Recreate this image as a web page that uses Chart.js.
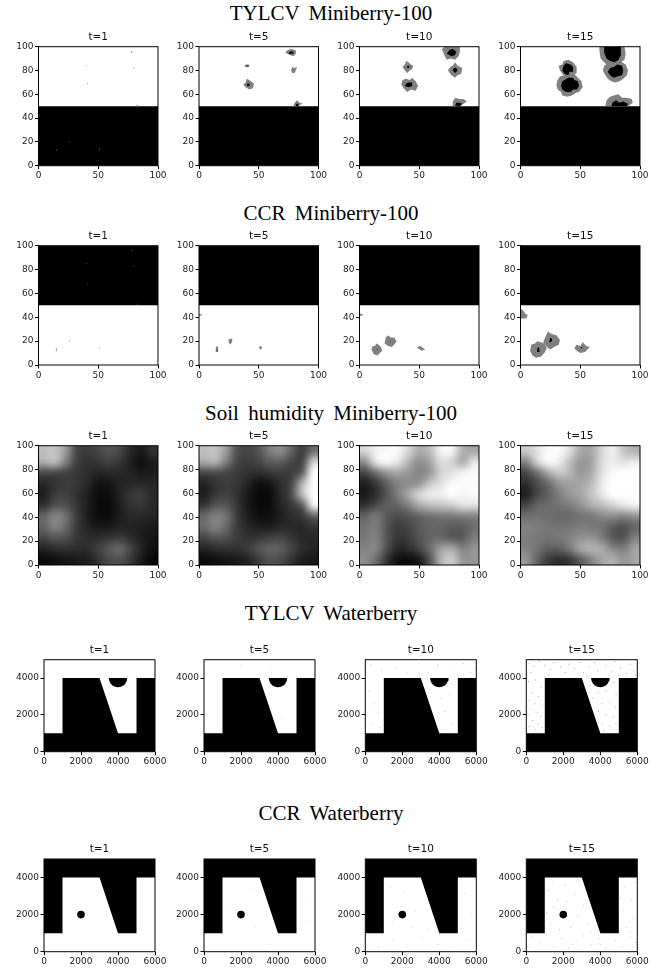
<!DOCTYPE html>
<html>
<head>
<meta charset="utf-8">
<title>Disease maps</title>
<script src="https://cdn.jsdelivr.net/npm/chart.js@4"></script>
<style>
    body { margin: 0; background: #fff; }
    #page { position: relative; width: 665px; height: 971px; overflow: hidden; }
    canvas { position: absolute; filter: blur(0.45px); }
    .head { position: absolute; left: 331px; transform: translateX(-50%); white-space: nowrap;
            font-family: "Liberation Serif", serif; font-size: 21px; word-spacing: 4px; line-height: 20px; color: #000; }
</style>
</head>
<body>
<div id="page"></div>
<script>
// Titles and tick labels
const rowTitles = ['TYLCV Miniberry-100', 'CCR Miniberry-100', 'Soil humidity Miniberry-100', 'TYLCV Waterberry', 'CCR Waterberry'];
const panelTitles = ['t=1', 't=5', 't=10', 't=15'];
const miniTicksX = [0, 50, 100];
const miniTicksY = [0, 20, 40, 60, 80, 100];
const waterTicksX = [0, 2000, 4000, 6000];
const waterTicksY = [0, 2000, 4000];

// Field masks, x,y pairs in data units
const miniLowerHalf = [0, 0, 100, 0, 100, 50, 0, 50];
const miniUpperHalf = [0, 50, 100, 50, 100, 100, 0, 100];
const waterTylcvMask = [0, 0, 6000, 0, 6000, 4000, 5000, 4000, 5000, 1000, 4000, 1000, 3000, 4000, 1000, 4000, 1000, 1000, 0, 1000];
const waterCcrMask = [0, 1000, 1000, 1000, 1000, 4000, 3000, 4000, 4000, 1000, 5000, 1000, 5000, 4000, 6000, 4000, 6000, 5000, 0, 5000];
const waterHalfDisc = [3500, 4000, 3525, 3850, 3600, 3700, 3700, 3600, 3850, 3525, 4000, 3500, 4150, 3525, 4300, 3600, 4400, 3700, 4475, 3850, 4500, 4000];
const waterTree = [2000, 2000];

// TYLCV Miniberry-100 spots
const tylcvT1Dots = [78, 95, 78, 96, 80, 82, 41, 69, 40, 84, 83, 51, 82, 50.5];
const tylcvT1DarkDots = [15, 13, 26, 20, 51, 14, 0.5, 42];
const tylcvT5Gray = [
    [38, 83, 39, 85, 42, 85, 42, 83],
    [37, 68, 39, 70, 40, 73, 42, 72, 46, 69, 45, 65, 42, 64, 39, 66],
    [72, 95, 74, 97, 77, 98, 81, 97, 81, 94, 79, 92, 76, 93, 74, 94],
    [77, 80, 78, 83, 80, 82, 82, 83, 81, 80, 80, 78, 78, 78],
    [79, 50, 80, 53, 82, 55, 84, 53, 87, 52, 84, 51, 83, 50]
];
const tylcvT5Black = [
    [39, 83.5, 41, 84.5, 41.5, 83.5],
    [40, 67, 40.5, 69, 42, 69, 42.5, 67],
    [75, 94, 76, 96, 79, 96, 79, 94],
    [81, 50, 81.5, 52, 83, 52, 83.5, 50]
];
const tylcvT10Gray = [
    [36, 83, 38, 85, 39, 88, 41, 87, 43, 85, 45, 84, 44, 81, 42, 80, 40, 78, 38, 80],
    [35, 68, 36, 72, 39, 73, 42, 72, 44, 74, 47, 71, 49, 67, 47, 63, 43, 64, 40, 62, 37, 65],
    [69, 98, 71, 100, 84, 100, 84, 96, 83, 92, 80, 89, 76, 90, 73, 89, 71, 93],
    [74, 80, 76, 83, 78, 84, 80, 87, 82, 84, 86, 82, 85, 77, 82, 76, 80, 74, 77, 76],
    [78, 50, 78, 54, 80, 57, 84, 56, 87, 56, 90, 54, 87, 52, 84, 50]
];
const tylcvT10Black = [
    [39, 83, 41, 84, 42, 83, 41, 82],
    [38, 67, 39, 69, 41, 70, 44, 70, 44, 67, 41, 66],
    [73, 94, 75, 97, 78, 98, 81, 96, 80, 93, 77, 92],
    [78, 80, 79, 82, 81, 82, 82, 80, 80, 78],
    [80, 50, 81, 53, 84, 53, 86, 52, 84, 50]
];
const tylcvT15Gray = [
    [33, 80, 32, 84, 35, 85, 36, 88, 40, 89, 44, 87, 47, 83, 47, 78, 44, 76, 42, 73, 38, 74, 36, 76],
    [30, 68, 31, 64, 34, 62, 35, 59, 39, 58, 43, 59, 46, 61, 49, 62, 52, 66, 51, 71, 48, 74, 45, 77, 40, 78, 37, 76, 33, 75, 31, 72],
    [66, 97, 67, 90, 70, 87, 73, 84, 77, 85, 81, 84, 84, 87, 87, 89, 88, 94, 87, 100, 66, 100],
    [69, 80, 71, 76, 73, 73, 76, 71, 79, 70, 83, 71, 86, 73, 89, 76, 90, 80, 88, 85, 85, 87, 82, 89, 78, 88, 73, 86, 70, 84],
    [71, 50, 72, 55, 75, 58, 78, 59, 82, 60, 85, 57, 89, 57, 93, 56, 94, 53, 90, 50]
];
const tylcvT15Black = [
    [35, 80, 36, 84, 38, 86, 42, 85, 44, 83, 44, 79, 41, 79, 40, 76, 37, 77],
    [34, 67, 35, 64, 38, 62, 42, 62, 44, 64, 47, 64, 49, 67, 48, 71, 45, 72, 44, 74, 40, 74, 37, 72, 35, 71],
    [70, 95, 72, 90, 75, 88, 79, 87, 82, 89, 84, 93, 84, 100, 70, 100],
    [73, 79, 75, 76, 78, 74, 81, 75, 85, 76, 86, 80, 85, 84, 81, 85, 78, 83, 75, 82],
    [76, 50, 77, 53, 80, 55, 83, 53, 86, 54, 90, 52, 89, 50]
];

// CCR Miniberry-100 spots
const ccrT1Dots = [15, 13, 15, 12, 15, 14, 26, 20, 51, 14];
const ccrT1DarkDots = [78, 96, 80, 83, 41, 68, 40, 85, 83, 51];
const ccrT5Gray = [
    [0, 41.5, 0, 42.5, 2.5, 42.5, 2.5, 41.5],
    [13.5, 11, 14, 14, 15, 16, 16, 15, 16, 11],
    [24.5, 21, 26, 22, 28, 22, 27.5, 19, 26, 17, 25, 19],
    [50, 14, 51, 16, 53, 15, 52, 13]
];
const ccrT5Black = [[14.5, 11.5, 15, 14, 15.5, 12]];
const ccrT10Gray = [
    [0, 41, 0, 43, 2, 43, 3, 41.5],
    [10, 13, 11, 16, 13, 16, 14, 18, 16, 17, 18, 15, 19, 12, 17, 10, 15, 8, 12, 9],
    [21, 18, 22, 23, 24, 25, 26, 23, 29, 23, 31, 20, 29, 17, 27, 15, 24, 16],
    [48, 15, 51, 16, 55, 13, 52, 12, 49, 14]
];
const ccrT10Black = [[14, 12.5, 14.5, 14, 15, 12.5], [25, 19.5, 25.5, 21, 26, 19.5]];
const ccrT15Gray = [
    [0, 39, 0, 47, 2, 46, 4, 43, 6, 42, 5, 39, 3, 39],
    [8, 12, 9, 17, 12, 18, 14, 20, 17, 19, 20, 18, 22, 14, 20, 10, 17, 7, 13, 6, 10, 8],
    [19, 19, 21, 24, 23, 28, 26, 26, 30, 25, 33, 21, 32, 17, 28, 15, 25, 13, 22, 15],
    [45, 14, 47, 17, 50, 16, 52, 19, 55, 16, 58, 15, 56, 13, 54, 11, 50, 10, 47, 12]
];
const ccrT15Black = [[14, 11, 14, 14, 15.5, 15, 16, 11], [24, 19, 25, 23, 26, 22, 26.5, 21, 25.5, 19], [50, 14, 51, 15, 52, 14.5, 51, 14]];

// Soil humidity grey level, top row first, 11 cells across and down
const soilT1 = [
    [190, 195, 155, 70, 60, 70, 85, 70, 40, 25, 50],
    [175, 190, 130, 65, 50, 55, 65, 55, 30, 15, 30],
    [70, 70, 65, 55, 45, 35, 40, 40, 35, 25, 30],
    [40, 50, 60, 55, 40, 20, 20, 35, 40, 40, 40],
    [30, 60, 65, 50, 30, 12, 15, 35, 55, 60, 40],
    [50, 80, 80, 55, 30, 10, 10, 30, 50, 55, 40],
    [100, 135, 115, 60, 30, 12, 12, 30, 40, 40, 35],
    [100, 130, 105, 60, 35, 25, 25, 35, 35, 30, 25],
    [70, 85, 80, 55, 45, 45, 55, 60, 45, 30, 20],
    [35, 45, 50, 45, 45, 65, 90, 105, 70, 35, 15],
    [10, 15, 20, 25, 30, 50, 75, 80, 55, 25, 5]
];
const soilT5 = [
    [190, 195, 155, 80, 70, 85, 125, 140, 100, 60, 110],
    [170, 180, 125, 70, 60, 70, 90, 95, 70, 65, 210],
    [70, 75, 70, 60, 50, 45, 55, 60, 60, 95, 255],
    [35, 50, 60, 55, 35, 15, 20, 45, 70, 180, 255],
    [30, 55, 65, 50, 25, 10, 12, 40, 75, 190, 255],
    [55, 85, 85, 55, 25, 10, 12, 35, 55, 90, 240],
    [105, 130, 115, 60, 30, 15, 15, 30, 45, 55, 95],
    [105, 130, 105, 60, 40, 30, 30, 40, 40, 40, 50],
    [70, 85, 80, 60, 50, 55, 65, 70, 55, 40, 40],
    [35, 45, 50, 50, 60, 85, 100, 95, 70, 45, 35],
    [10, 15, 20, 25, 35, 60, 80, 75, 50, 30, 25]
];
const soilT10 = [
    [215, 240, 250, 250, 215, 170, 190, 245, 245, 175, 165],
    [140, 230, 250, 230, 180, 140, 165, 220, 210, 170, 230],
    [70, 110, 150, 165, 150, 130, 150, 210, 225, 245, 250],
    [30, 55, 95, 130, 140, 150, 200, 225, 250, 250, 250],
    [25, 45, 85, 125, 170, 215, 235, 240, 255, 245, 250],
    [50, 75, 95, 100, 130, 170, 190, 195, 205, 225, 225],
    [100, 120, 90, 75, 85, 100, 110, 120, 120, 125, 130],
    [115, 125, 85, 60, 70, 90, 100, 100, 90, 90, 110],
    [120, 130, 85, 55, 60, 85, 100, 105, 90, 90, 125],
    [130, 135, 80, 40, 45, 70, 110, 160, 170, 130, 150],
    [140, 110, 50, 15, 10, 25, 85, 180, 205, 150, 150]
];
const soilT15 = [
    [200, 225, 250, 250, 225, 170, 165, 215, 240, 195, 175],
    [130, 210, 250, 240, 190, 150, 160, 220, 235, 225, 235],
    [70, 110, 165, 200, 185, 150, 170, 225, 250, 255, 255],
    [45, 75, 105, 145, 160, 165, 185, 235, 255, 255, 255],
    [30, 70, 95, 125, 150, 165, 195, 230, 255, 255, 255],
    [70, 100, 110, 115, 125, 145, 170, 190, 210, 230, 240],
    [110, 115, 110, 105, 105, 115, 120, 135, 140, 130, 145],
    [130, 125, 120, 115, 120, 125, 120, 115, 90, 80, 100],
    [125, 120, 115, 120, 130, 145, 150, 125, 90, 85, 130],
    [130, 115, 95, 95, 120, 165, 180, 170, 135, 125, 165],
    [150, 100, 60, 45, 55, 90, 130, 165, 175, 150, 165]
];

// Waterberry speckles
const waterTylcvT5Dots = [750, 3000, 3000, 2900, 4200, 1800, 2000, 4700, 3600, 4600, 700, 4100];
const waterTylcvT10Dots = [300, 4700, 900, 4400, 1700, 4600, 2300, 4300, 2900, 4800, 3400, 4300, 3900, 4700, 4600, 4500, 5300, 4800, 5700, 4300, 5900, 4500,
    200, 3300, 500, 2600, 700, 2100, 300, 1500, 800, 1300, 3500, 3400, 4100, 2900, 4600, 3100, 4300, 2200, 3900, 1900, 4700, 1500, 4200, 1200];
const waterTylcvT15Dots = [150, 4800, 420, 4650, 700, 4900, 1000, 4700, 1300, 4450, 1500, 4850, 1850, 4600, 2100, 4300, 2300, 4750, 2600, 4500, 2900, 4850,
    3100, 4300, 3400, 4600, 3700, 4850, 3850, 4400, 4300, 4700, 4600, 4350, 4800, 4900, 5100, 4550, 5400, 4250, 5600, 4750, 5800, 4400, 5900, 4150, 250, 4300,
    1200, 4150, 3300, 4100, 5000, 4150, 120, 3800, 500, 3900, 800, 3500, 300, 3200, 650, 3000, 150, 2800, 450, 2600, 850, 2500, 250, 2300, 600, 2150, 100, 2000,
    780, 1900, 350, 1700, 650, 1500, 150, 1350, 500, 1200, 850, 1300, 3450, 3600, 3900, 3200, 4300, 3300, 4700, 3800, 4850, 3100, 3600, 2900, 4100, 2600, 4500, 2700,
    4800, 2400, 3900, 2200, 4300, 2000, 4700, 1900, 4100, 1500, 4500, 1400, 4850, 1500, 4200, 1150, 4700, 1200];
const waterCcrT5Dots = [1500, 3000, 2500, 3400, 1200, 2400, 2800, 1300, 5500, 2900, 5600, 1700, 3600, 400];
const waterCcrT10Dots = [700, 300, 1500, 600, 2300, 300, 3100, 700, 3900, 400, 4800, 200, 5600, 600, 1300, 3500, 2100, 3200, 2700, 2200, 1500, 1600, 2500, 1300, 3400, 1200, 5400, 3100, 5700, 2000, 5200, 1200];
const waterCcrT15Dots = [300, 800, 700, 500, 1100, 900, 1500, 300, 1900, 700, 2300, 200, 2700, 600, 3100, 850, 3500, 350, 3900, 700, 4300, 200, 4800, 600, 5200, 300, 5600, 800,
    5900, 500, 100, 300, 2500, 400, 4000, 400, 1300, 1500, 1700, 2800, 1200, 3300, 2100, 3600, 2600, 3100, 1500, 2400, 1100, 2100, 2800, 1900, 3100, 2500, 2400, 1300, 3300, 1500,
    3500, 1100, 1800, 1200, 2200, 2700, 1400, 3700, 2900, 3800, 5300, 3500, 5700, 2800, 5200, 2200, 5800, 1800, 5400, 1300, 5900, 3700, 5100, 2900, 5600, 1100];

// Page layout in px
const miniLefts = [38.5, 199, 359.5, 520.5];
const waterLefts = [44, 204, 365.3, 526.3];
const miniWidth = 119.5;
const waterWidth = 111;
const rowTops = [46.7, 245.7, 445.7, 659.7, 859];
const rowHeights = [119, 119.3, 119.3, 92, 92.7];
const headTops = [3, 203, 403, 603, 803];

const page = document.getElementById('page');

function toPoints(flat) {
    const out = [];
    for (let i = 0; i < flat.length; i += 2) out.push({ x: flat[i], y: flat[i + 1] });
    return out;
}

// A filled outline in data units
function shape(flat, color) {
    return { data: toPoints(flat), showLine: true, fill: 'shape', backgroundColor: color, borderColor: color, borderWidth: 0, pointRadius: 0 };
}

function dots(flat, color, radius) {
    return { data: toPoints(flat), showLine: false, pointStyle: 'rect', pointRadius: radius, pointBackgroundColor: color, pointBorderWidth: 0 };
}

function spots(grays, blacks) {
    return grays.map(p => shape(p, '#808080')).concat(blacks.map(p => shape(p, '#000')));
}

// Paints a grid of grey levels across the axes range, smoothed like imshow
const heatPlugin = {
    id: 'heat',
    beforeDatasetsDraw(chart, args, opts) {
        if (!opts.grid) return;
        const rows = opts.grid;
        const off = document.createElement('canvas');
        off.width = rows[0].length;
        off.height = rows.length;
        const octx = off.getContext('2d');
        rows.forEach((row, j) => row.forEach((v, i) => {
            octx.fillStyle = `rgb(${v},${v},${v})`;
            octx.fillRect(i, j, 1, 1);
        }));
        const sx = chart.scales.x, sy = chart.scales.y;
        const x0 = sx.getPixelForValue(sx.min), x1 = sx.getPixelForValue(sx.max);
        const y0 = sy.getPixelForValue(sy.max), y1 = sy.getPixelForValue(sy.min);
        const ctx = chart.ctx;
        ctx.save();
        ctx.imageSmoothingEnabled = true;
        ctx.imageSmoothingQuality = 'high';
        ctx.drawImage(off, x0, y0, x1 - x0, y1 - y0);
        ctx.restore();
    }
};

// All four spines of the axes box
const spinePlugin = {
    id: 'spines',
    afterDatasetsDraw(chart) {
        const a = chart.chartArea, ctx = chart.ctx;
        ctx.save();
        ctx.strokeStyle = '#000';
        ctx.lineWidth = 1;
        ctx.strokeRect(a.left, a.top, a.right - a.left, a.bottom - a.top);
        ctx.restore();
    }
};

function panel(cfg) {
    const canvasLeft = Math.floor(cfg.left) - 40;
    const canvasTop = Math.floor(cfg.top) - 20;
    const width = Math.ceil(cfg.left + cfg.width - canvasLeft) + 14;
    const height = Math.ceil(cfg.top + cfg.height - canvasTop) + 22;
    const canvas = document.createElement('canvas');
    canvas.width = width;
    canvas.height = height;
    canvas.style.left = canvasLeft + 'px';
    canvas.style.top = canvasTop + 'px';
    page.appendChild(canvas);

    const yWidth = cfg.left - canvasLeft;
    const xHeight = height - (cfg.top + cfg.height - canvasTop);
    const axis = (ticks, max) => ({
        type: 'linear',
        min: 0,
        max: max,
        afterBuildTicks: scale => { scale.ticks = ticks.map(value => ({ value })); },
        border: { display: false },
        grid: { drawOnChartArea: false, drawTicks: true, tickLength: 3.5, tickWidth: 1, tickColor: '#000' },
        ticks: { autoSkip: false, maxRotation: 0, padding: 1.5, color: '#222', font: { family: 'DejaVu Sans', size: 9 }, callback: v => String(v) }
    });
    const xAxis = axis(cfg.xTicks, cfg.xMax);
    xAxis.afterFit = scale => { scale.height = xHeight; scale.paddingLeft = 0; scale.paddingRight = 0; };
    const yAxis = axis(cfg.yTicks, cfg.yMax);
    yAxis.afterFit = scale => { scale.width = yWidth; scale.paddingTop = 0; scale.paddingBottom = 0; };

    // first dataset sits on top in Chart.js, so the last layer gets the lowest order
    const layers = cfg.layers || [];
    layers.forEach((d, i) => { d.order = layers.length - i; });

    return new Chart(canvas.getContext('2d'), {
        type: 'scatter',
        data: { datasets: layers },
        plugins: [heatPlugin, spinePlugin],
        options: {
            responsive: false,
            animation: false,
            events: [],
            layout: { padding: { top: cfg.top - canvasTop - 20, right: width - (cfg.left + cfg.width - canvasLeft), left: 0, bottom: 0 } },
            scales: { x: xAxis, y: yAxis },
            plugins: {
                legend: { display: false },
                tooltip: { enabled: false },
                heat: { grid: cfg.grid || null },
                title: {
                    display: true,
                    fullSize: false,
                    text: cfg.title,
                    color: '#111',
                    font: { family: 'DejaVu Sans', size: 10.5, weight: 'normal', lineHeight: 1.2 },
                    padding: { top: 4.4, bottom: 3 }
                }
            }
        }
    });
}

rowTitles.forEach((text, i) => {
    const el = document.createElement('div');
    el.className = 'head';
    el.style.top = headTops[i] + 'px';
    el.textContent = text;
    page.appendChild(el);
});

const white = null;
const speck = 'rgba(0,0,0,0.35)';
const rowsOfLayers = [
    [
        [shape(miniLowerHalf, '#000'), dots(tylcvT1Dots, '#aaa', 0.8), dots(tylcvT1DarkDots, '#777', 0.6)],
        [shape(miniLowerHalf, '#000')].concat(spots(tylcvT5Gray, tylcvT5Black)),
        [shape(miniLowerHalf, '#000')].concat(spots(tylcvT10Gray, tylcvT10Black)),
        [shape(miniLowerHalf, '#000')].concat(spots(tylcvT15Gray, tylcvT15Black))
    ],
    [
        [shape(miniUpperHalf, '#000'), dots(ccrT1Dots, '#aaa', 0.8), dots(ccrT1DarkDots, '#777', 0.6)],
        [shape(miniUpperHalf, '#000')].concat(spots(ccrT5Gray, ccrT5Black)),
        [shape(miniUpperHalf, '#000')].concat(spots(ccrT10Gray, ccrT10Black)),
        [shape(miniUpperHalf, '#000')].concat(spots(ccrT15Gray, ccrT15Black))
    ],
    [white, white, white, white],
    [
        [shape(waterTylcvMask, '#000'), shape(waterHalfDisc, '#000')],
        [shape(waterTylcvMask, '#000'), shape(waterHalfDisc, '#000'), dots(waterTylcvT5Dots, speck, 0.5)],
        [shape(waterTylcvMask, '#000'), shape(waterHalfDisc, '#000'), dots(waterTylcvT10Dots, speck, 0.6)],
        [shape(waterTylcvMask, '#000'), shape(waterHalfDisc, '#000'), dots(waterTylcvT15Dots, speck, 0.7)]
    ],
    [
        [shape(waterCcrMask, '#000')],
        [shape(waterCcrMask, '#000'), dots(waterCcrT5Dots, speck, 0.4)],
        [shape(waterCcrMask, '#000'), dots(waterCcrT10Dots, speck, 0.5)],
        [shape(waterCcrMask, '#000'), dots(waterCcrT15Dots, speck, 0.6)]
    ]
];
const soilGrids = [soilT1, soilT5, soilT10, soilT15];

rowsOfLayers.forEach((row, r) => {
    const isMini = r < 3;
    row.forEach((layers, c) => {
        const list = layers ? layers.slice() : [];
        if (r === 4) {
            list.push({ data: toPoints(waterTree), showLine: false, pointRadius: 3.8, pointBackgroundColor: '#000', pointBorderWidth: 0 });
        }
        panel({
            left: isMini ? miniLefts[c] : waterLefts[c],
            top: rowTops[r],
            width: isMini ? miniWidth : waterWidth,
            height: rowHeights[r],
            title: panelTitles[c],
            xTicks: isMini ? miniTicksX : waterTicksX,
            yTicks: isMini ? miniTicksY : waterTicksY,
            xMax: isMini ? 100 : 6000,
            yMax: isMini ? 100 : 5000,
            layers: list,
            grid: r === 2 ? soilGrids[c] : null
        });
    });
});
</script>
</body>
</html>
